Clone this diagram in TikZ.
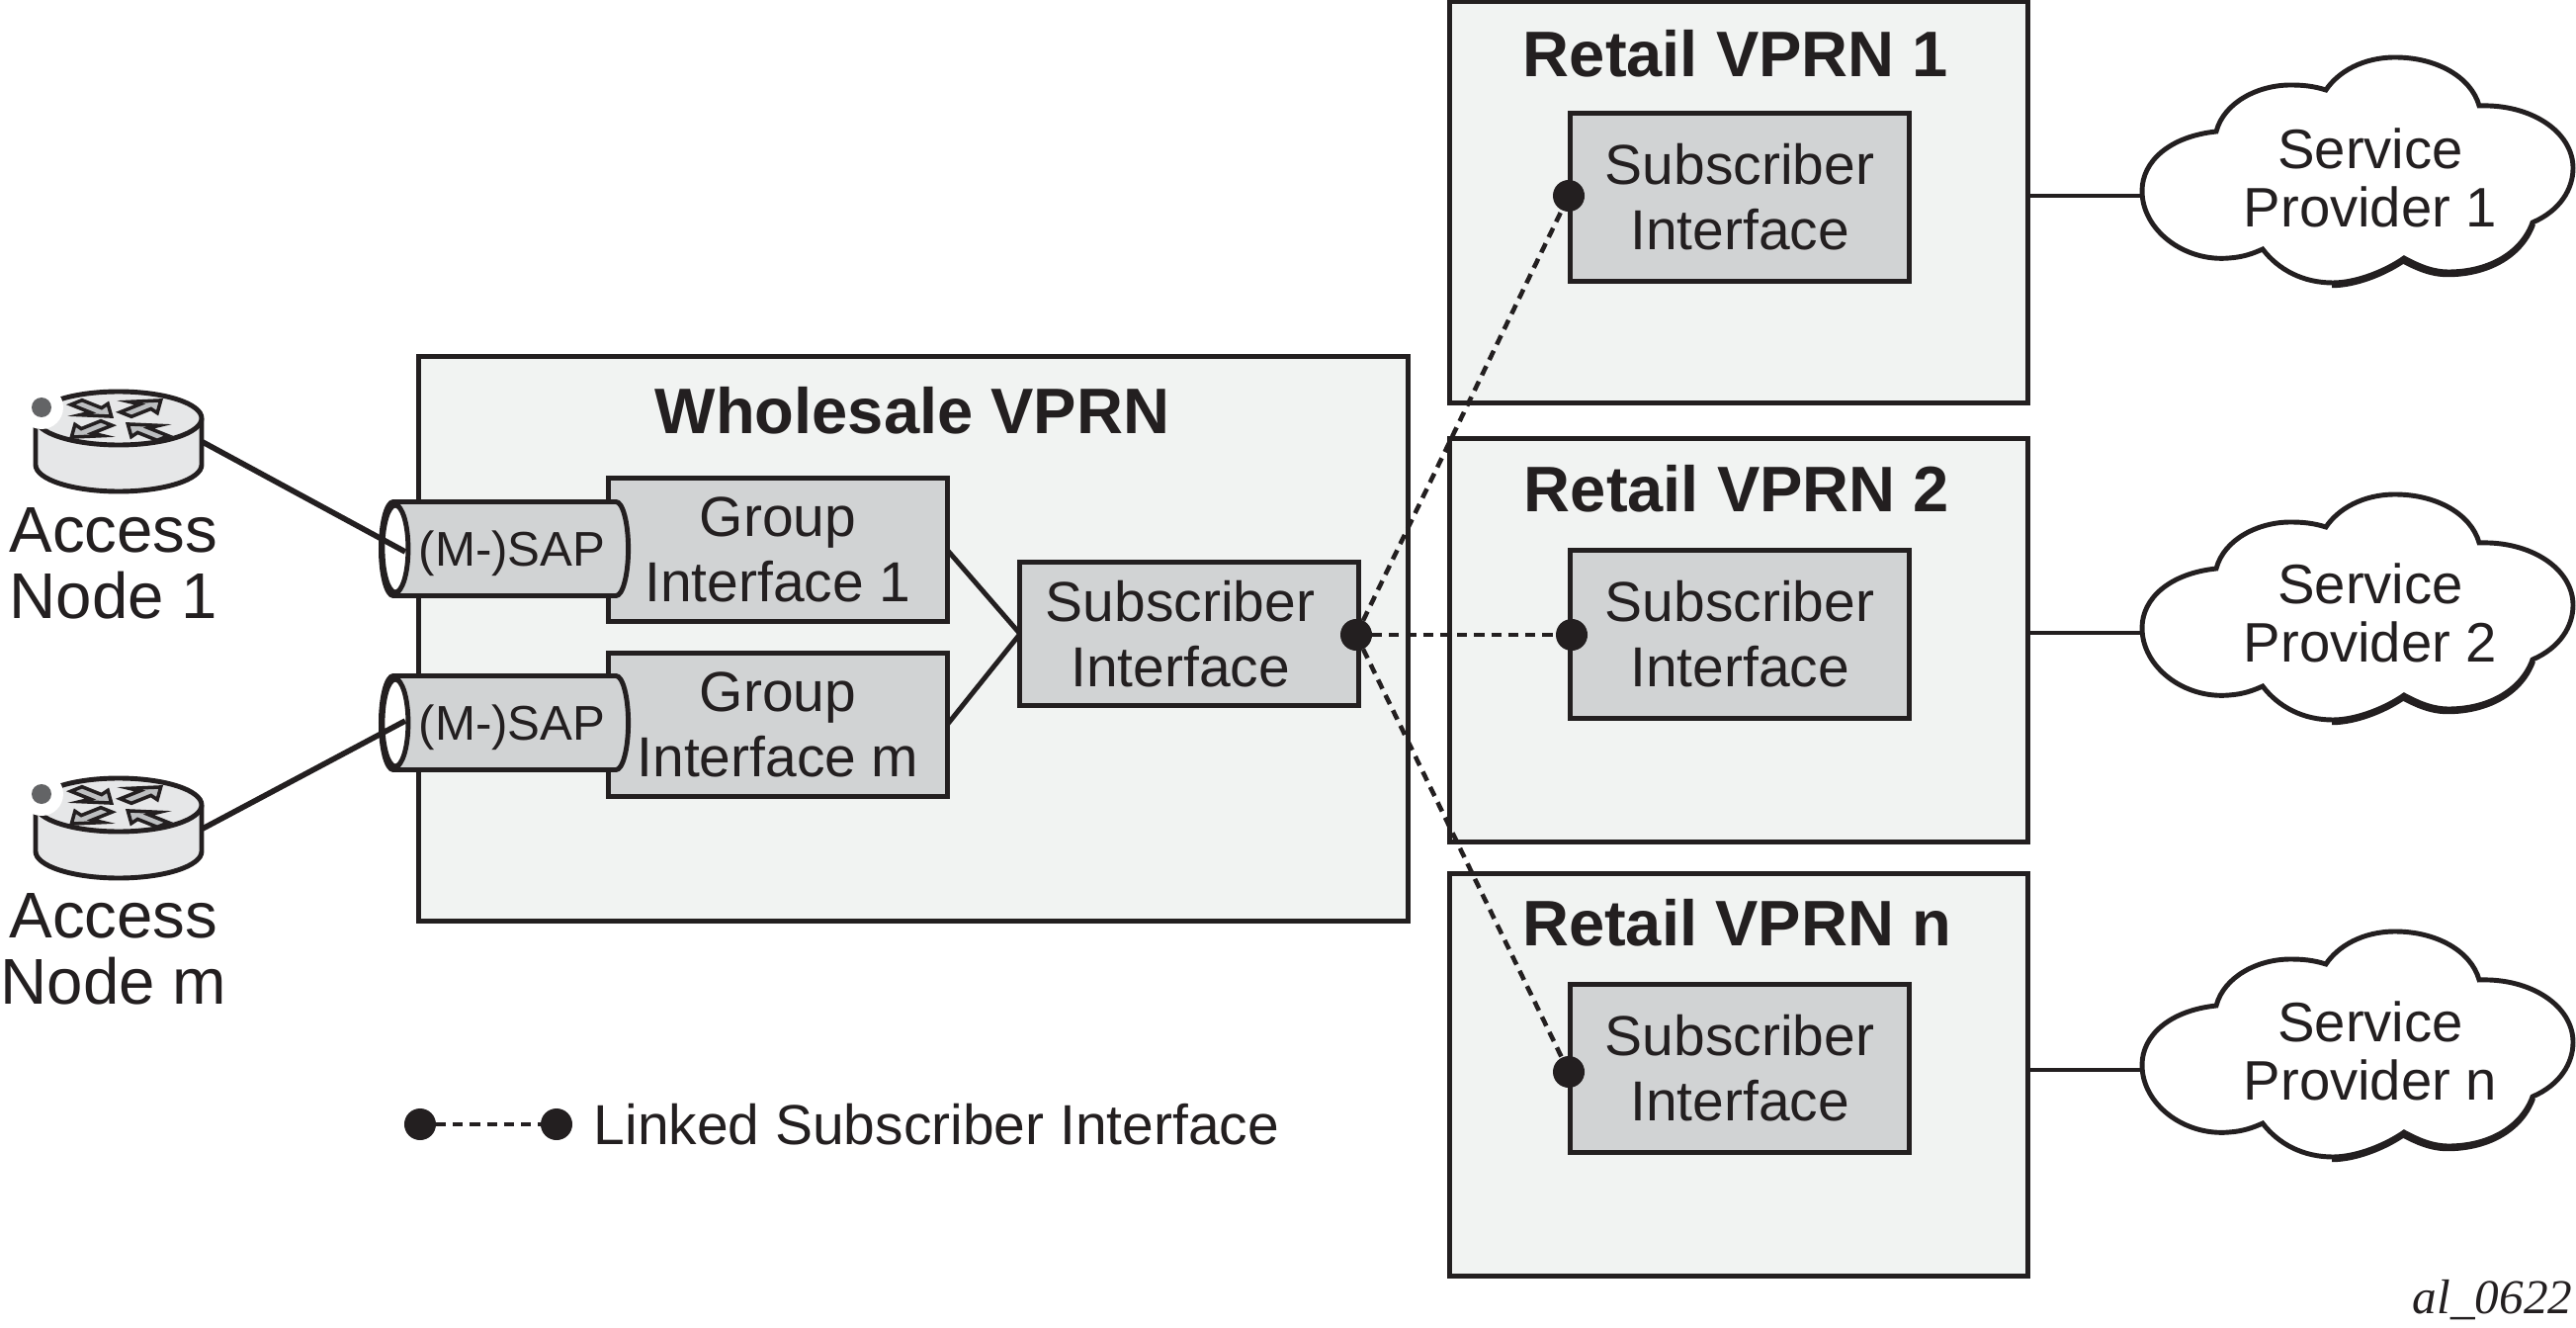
\documentclass[tikz,border=0pt]{standalone}
\usepackage{fontspec}
\setmainfont{Liberation Sans}
\newfontfamily\tagfont{Liberation Serif}
\usetikzlibrary{shapes.geometric}
\definecolor{inkc}{HTML}{231F20}
\definecolor{paleg}{HTML}{F1F3F2}
\definecolor{midg}{HTML}{D1D3D4}
\definecolor{routerg}{HTML}{E6E7E8}
\definecolor{arrowg}{HTML}{BCBEC0}
\definecolor{ledg}{HTML}{636466}
\tikzset{
  ln/.style={draw=inkc,line width=1.4pt},
  cn/.style={draw=inkc,line width=1.6pt},
  vprnbox/.style={ln,fill=paleg,inner sep=0pt,outer sep=0pt},
  ifbox/.style={ln,fill=midg,inner sep=0pt,outer sep=0pt,align=center,text=inkc,font=\fontsize{16.2}{18.8}\selectfont},
  vprntitle/.style={inner sep=0pt,text=inkc,font=\bfseries\fontsize{18.5}{22}\selectfont},
  nodetext/.style={inner sep=0pt,align=center,text=inkc,font=\fontsize{18.6}{19}\selectfont},
  sptext/.style={inner sep=0pt,align=center,text=inkc,font=\fontsize{16}{16.6}\selectfont},
  sapcyl/.style={shape=cylinder,shape border rotate=180,aspect=.7,draw=inkc,line width=1.4pt,
    minimum width=.95cm,minimum height=2.5cm,inner sep=0pt,outer sep=0pt,text=inkc,text depth=0pt,
    cylinder uses custom fill,cylinder body fill=midg,cylinder end fill=midg,
    font=\fontsize{14}{16}\selectfont},
  lkdot/.style={circle,fill=inkc,minimum size=.32cm,inner sep=0pt,outer sep=0pt},
  lkline/.style={draw=inkc,line width=1.3pt,dash pattern=on 2.9pt off 2pt},
  router/.pic={
    \draw[ln,fill=routerg](-84,0)--(-84,47).. controls (-84,62) and (-46,74) .. (0,74)
      .. controls (46,74) and (84,62) .. (84,47)--(84,0);
    \draw[ln,fill=routerg](0,0)ellipse[x radius=84,y radius=27];
    \foreach \cx/\cy/\ang in {-25/-9/-45,25/-11/45,-30/12/225,27/13/135}{
      \begin{scope}[shift={(\cx,\cy)},yscale=.4,rotate=\ang]
      \draw[draw=inkc,line width=1pt,fill=arrowg](25,0)--(0,20)--(3,8)--(-25,8)--(-25,-8)--(3,-8)--(0,-20)--cycle;
      \end{scope}
    }
    \fill[white](-78,-11)circle[radius=22];
    \fill[ledg](-78,-11)circle[radius=10];
    \coordinate(-east)at(85,24);
  },
  spcloud/.pic={
    \draw[ln,line width=2.4pt,shift={(-1,1)}](177,52).. controls (165,85) and (130,102) .. (92,102)
      .. controls (75,102) and (60,95) .. (47,88) .. controls (30,100) and (0,113) .. (-25,113);
    \draw[ln,fill=white](-143,-40).. controls (-190,-35) and (-218,-10) .. (-218,20)
      .. controls (-218,60) and (-175,92) .. (-130,88) .. controls (-115,87) and (-105,83) .. (-96,79)
      .. controls (-80,100) and (-55,113) .. (-25,113) .. controls (0,113) and (30,100) .. (47,88)
      .. controls (60,95) and (75,102) .. (92,102) .. controls (130,102) and (165,85) .. (177,52)
      .. controls (205,40) and (218,18) .. (218,-3) .. controls (218,-40) and (175,-68) .. (123,-66)
      .. controls (115,-95) and (80,-115) .. (38,-115) .. controls (5,-115) and (-20,-100) .. (-32,-82)
      .. controls (-45,-86) and (-55,-87) .. (-68,-87) .. controls (-100,-87) and (-135,-70) .. (-143,-40)--cycle;
    \coordinate(-west)at(-218,25);
  }
}
\begin{document}
\begin{tikzpicture}[x=.01cm,y=-.01cm]
\useasboundingbox(0,0)rectangle(2606,1343);

\node[vprnbox,minimum width=10cm,minimum height=5.7cm](wholesale)at(924,646){};
\node[vprntitle](wholesaletitle)at(923,415){Wholesale VPRN};

\node[vprnbox,minimum width=5.85cm,minimum height=4.05cm](retaila)at(1759,204.5){};
\node[vprnbox,minimum width=5.85cm,minimum height=4.07cm](retailb)at(1759,647.5){};
\node[vprnbox,minimum width=5.85cm,minimum height=4.06cm](retailc)at(1759,1087){};
\node[vprntitle](retailatitle)at(1756,54){Retail VPRN 1};
\node[vprntitle](retailbtitle)at(1757,494){Retail VPRN 2};
\node[vprntitle](retailctitle)at(1757,933){Retail VPRN n};

\node[ifbox,minimum width=3.42cm,minimum height=1.69cm](subiffa)at(1760,199.5){Subscriber\\Interface};
\node[ifbox,minimum width=3.42cm,minimum height=1.69cm](subiffb)at(1760,641.5){Subscriber\\Interface};
\node[ifbox,minimum width=3.42cm,minimum height=1.69cm](subiffc)at(1760,1080.5){Subscriber\\Interface};

\node[ifbox,minimum width=3.42cm,minimum height=1.44cm](groupa)at(787,556){Group\\Interface 1};
\node[ifbox,minimum width=3.42cm,minimum height=1.45cm](groupb)at(787,733){Group\\Interface m};
\node[ifbox,minimum width=3.42cm,minimum height=1.45cm](subifw)at(1203,641){Subscriber\kern.18cm\\Interface\kern.18cm};
\draw[ln](groupa.east)--(subifw.west);
\draw[ln](groupb.east)--(subifw.west);

\node[sapcyl](sapa)at(518,555){(M-)SAP};
\node[sapcyl](sapb)at(518,731){(M-)SAP};
\draw[ln,fill=white]([xshift=-1.18cm]sapa.center)ellipse[x radius=13,y radius=44];
\draw[ln,fill=white]([xshift=-1.18cm]sapb.center)ellipse[x radius=13,y radius=44];

\pic(routera)at(120,423){router};
\pic(routerb)at(120,814){router};
\coordinate(sapain)at(410,558);
\coordinate(sapbin)at(410,729);
\draw[cn](routera-east)--(sapain);
\draw[cn](routerb-east)--(sapbin);
\node[nodetext](accessa)at(115,570){Access\\Node 1};
\node[nodetext](accessb)at(115,960){Access\\Node m};

\node[lkdot](dotw)at(1372,642){};
\node[lkdot](dota)at(1587,198){};
\node[lkdot](dotb)at(1590,642){};
\node[lkdot](dotc)at(1587,1084){};
\draw[lkline](dotw)--(dota);
\draw[lkline](dotw)--(dotb);
\draw[lkline](dotw)--(dotc);

\pic(cloada)at(2385,173){spcloud};
\pic(cloadb)at(2385,615){spcloud};
\pic(cloadc)at(2385,1057){spcloud};
\node[sptext](spa)at(2398,180){Service\\Provider 1};
\node[sptext](spb)at(2398,620){Service\\Provider 2};
\node[sptext](spc)at(2398,1063){Service\\Provider n};
\draw[ln](cloada-west)--(cloada-west-|retaila.east);
\draw[ln](cloadb-west)--(cloadb-west-|retailb.east);
\draw[ln](cloadc-west)--(cloadc-west-|retailc.east);

\node[lkdot](keya)at(425,1137){};
\node[lkdot](keyb)at(563,1137){};
\draw[lkline](keya)--(keyb);
\node[inner sep=0pt,anchor=west,text=inkc,font=\fontsize{16.2}{18.8}\selectfont](keytext)at(600,1137){Linked Subscriber Interface};

\node[inner sep=0pt,anchor=base east,text=inkc,font=\tagfont\itshape\fontsize{14}{16}\selectfont](figtag)at(2603,1328){al\_0622};
\end{tikzpicture}
\end{document}
